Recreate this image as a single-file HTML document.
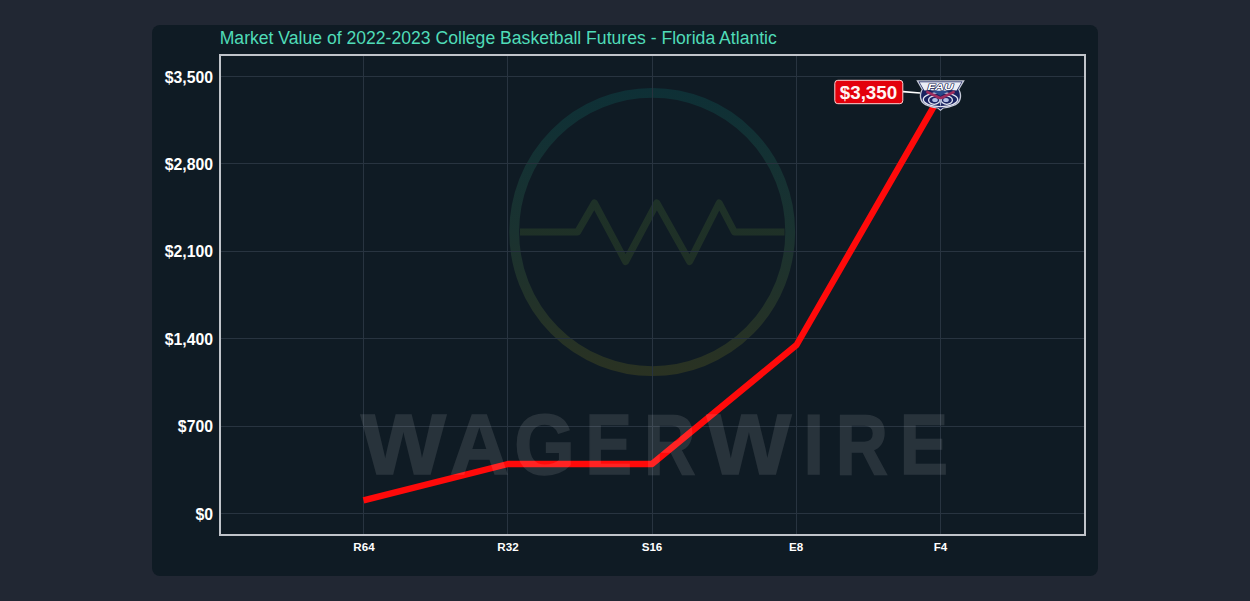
<!DOCTYPE html>
<html>
<head>
<meta charset="utf-8">
<style>
html,body{margin:0;padding:0;}
body{width:1250px;height:601px;overflow:hidden;background:#212733;position:relative;font-family:"Liberation Sans",sans-serif;}
#panel{position:absolute;left:152px;top:25.3px;width:945.5px;height:550.7px;border-radius:8px;background:#0f1b24;}
svg{position:absolute;left:0;top:0;}
</style>
</head>
<body>
<div id="panel"></div>
<svg width="1250" height="601" viewBox="0 0 1250 601">
  <defs>
    <linearGradient id="lg" x1="0" y1="88" x2="0" y2="376" gradientUnits="userSpaceOnUse">
      <stop offset="0" stop-color="#0e3036"/>
      <stop offset="0.5" stop-color="#1a3230"/>
      <stop offset="1" stop-color="#2a3222"/>
    </linearGradient>
    <linearGradient id="lgw" x1="0" y1="200" x2="0" y2="265" gradientUnits="userSpaceOnUse">
      <stop offset="0" stop-color="#1e3128"/>
      <stop offset="1" stop-color="#1f3026"/>
    </linearGradient>
  </defs>
  <!-- title -->
  <text x="219.7" y="44" font-family="Liberation Sans" font-size="17.6" fill="#50dcb8">Market Value of 2022-2023 College Basketball Futures - Florida Atlantic</text>

  <!-- logo watermark -->
  <ellipse cx="652.2" cy="232" rx="138" ry="139.1" fill="none" stroke="url(#lg)" stroke-width="9.8"/>
  <polyline points="520,232 577.6,232 594.4,203 625.6,261.5 656.8,203 689.6,261.5 719.2,203 734.4,232 784.5,232" fill="none" stroke="url(#lgw)" stroke-width="7" stroke-linejoin="round"/>

  <!-- grid -->
  <g stroke="#283440" stroke-width="1" shape-rendering="crispEdges">
    <line x1="221" y1="76.5" x2="1084" y2="76.5"/>
    <line x1="221" y1="163.5" x2="1084" y2="163.5"/>
    <line x1="221" y1="251.5" x2="1084" y2="251.5"/>
    <line x1="221" y1="338.5" x2="1084" y2="338.5"/>
    <line x1="221" y1="426.5" x2="1084" y2="426.5"/>
    <line x1="221" y1="513.5" x2="1084" y2="513.5"/>
    <line x1="363.5" y1="56" x2="363.5" y2="534"/>
    <line x1="507.5" y1="56" x2="507.5" y2="534"/>
    <line x1="652.5" y1="56" x2="652.5" y2="534"/>
    <line x1="796.5" y1="56" x2="796.5" y2="534"/>
    <line x1="940.5" y1="56" x2="940.5" y2="534"/>
  </g>

  <!-- data line -->
  <polyline points="363.5,500.4 508,464 652,464 796.5,345 940.5,94.8" fill="none" stroke="#ff0a0a" stroke-width="6.4" stroke-linejoin="round" stroke-linecap="butt"/>

  <!-- watermark text -->
  <g font-family="Liberation Sans" font-weight="bold" font-size="84.5" fill="#ffffff" stroke="#ffffff" stroke-width="1.6" stroke-linejoin="miter" opacity="0.1">
    <text transform="translate(361.07,474.1) scale(1.0666,1)">W</text>
    <text transform="translate(449.74,474.1) scale(0.9693,1)">A</text>
    <text transform="translate(514.14,474.1) scale(0.9212,1)">G</text>
    <text transform="translate(585.51,474.1) scale(0.8223,1)">E</text>
    <text transform="translate(643.91,474.1) scale(0.8436,1)">R</text>
    <text transform="translate(706.76,474.1) scale(1.0592,1)">W</text>
    <text transform="translate(803.57,474.1) scale(0.8714,1)">I</text>
    <text transform="translate(835.85,474.1) scale(0.8545,1)">R</text>
    <text transform="translate(899.75,474.1) scale(0.8550,1)">E</text>
  </g>

  <!-- frame -->
  <rect x="220" y="55" width="865" height="480" fill="none" stroke="#c0c4ca" stroke-width="2"/>

  <!-- y labels -->
  <g font-family="Liberation Sans" font-weight="bold" font-size="15.8" fill="#ffffff" text-anchor="end">
    <text x="213" y="82.6">$3,500</text>
    <text x="213" y="169.6">$2,800</text>
    <text x="213" y="257.3">$2,100</text>
    <text x="213" y="344.7">$1,400</text>
    <text x="213" y="432.2">$700</text>
    <text x="213" y="519.6">$0</text>
  </g>
  <!-- x labels -->
  <g font-family="Liberation Sans" font-weight="bold" font-size="11.6" fill="#ffffff" text-anchor="middle">
    <text x="364" y="550.7">R64</text>
    <text x="508" y="550.7">R32</text>
    <text x="652" y="550.7">S16</text>
    <text x="796" y="550.7">E8</text>
    <text x="940.5" y="550.7">F4</text>
  </g>

  <!-- annotation -->
  <line x1="903" y1="91.6" x2="920" y2="93" stroke="#ffffff" stroke-width="1.6"/>
  <rect x="834.8" y="80.3" width="68" height="23.4" rx="3" fill="#e3000b" stroke="#ffd0d0" stroke-width="1"/>
  <text x="868.5" y="98.8" font-family="Liberation Sans" font-weight="bold" font-size="18.8" fill="#fff4f4" text-anchor="middle">$3,350</text>

  <!-- FAU logo -->
  <g id="fau">
    <path d="M916.3,80.2 L964.8,80.2 L959.3,89.5 C961.8,93 962,99 959,102.8 C955.5,106.5 948,108 943.5,108.6 L940.5,111 L937.5,108.6 C933,108 925.5,106.5 922,102.8 C919,99 919.2,93 921.7,89.5 Z" fill="#c6cad8"/>
    <path d="M918.6,81.4 L962.4,81.4 L958,89.6 C960.4,93 960.6,98.6 957.8,102 C954.6,105.4 947.6,106.8 943.2,107.4 L940.5,109.6 L937.8,107.4 C933.4,106.8 926.4,105.4 923.2,102 C920.4,98.6 920.6,93 923,89.6 Z" fill="#1a2360"/>
    <path d="M919.6,82.3 L961.4,82.3 L956.6,90.6 L951,90 L940.5,91.8 L930,90 L924.4,90.6 Z" fill="#eceef6"/>
    <ellipse cx="940.5" cy="99.6" rx="17.2" ry="7" fill="none" stroke="#e4e6f0" stroke-width="1.4"/>
    <path d="M932,90.8 L949,90.8 L940.5,96 Z" fill="#2b4a8c"/>
    <ellipse cx="934.2" cy="100.2" rx="5.6" ry="4.1" fill="#1c2766" stroke="#e2e5f2" stroke-width="1.3"/>
    <ellipse cx="946.8" cy="100.2" rx="5.6" ry="4.1" fill="#1c2766" stroke="#e2e5f2" stroke-width="1.3"/>
    <ellipse cx="935" cy="100" rx="2.8" ry="2.1" fill="#b4c0e6"/>
    <ellipse cx="946" cy="100" rx="2.8" ry="2.1" fill="#b4c0e6"/>
    <path d="M926.6,90.3 L940.5,96.8 L954.4,90.3 L954.9,93.1 L940.5,100 L926.1,93.1 Z" fill="#9c2d5e"/>
    <path d="M938.9,99.2 L942.1,99.2 L940.5,107 Z" fill="#aeb8d4"/>
    <text transform="translate(940.5,90.2) scale(1.35,1)" font-family="Liberation Sans" font-weight="bold" font-style="italic" font-size="9.6" fill="#ffffff" stroke="#141c50" stroke-width="1.1" paint-order="stroke" text-anchor="middle">FAU</text>
  </g>
</svg>
</body>
</html>
